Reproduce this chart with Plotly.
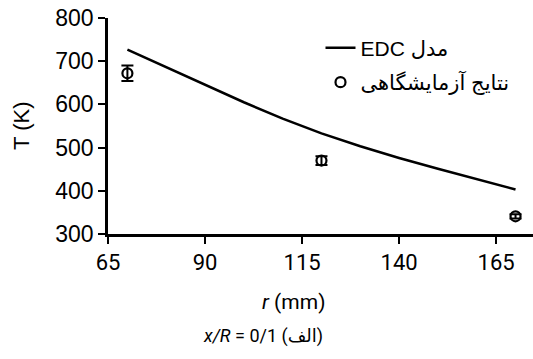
import plotly.graph_objects as go

# EDC model curve
model_r = [70, 80, 90, 100, 110, 120, 130, 140, 150, 160, 170]
model_T = [727, 686, 645, 605, 567, 533, 503, 476, 451, 427, 403]

# Experimental results
exp_r = [70, 120, 170]
exp_T = [672, 470, 341]
exp_err = [18, 10, 5]

x_ticks = [65, 90, 115, 140, 165]
y_ticks = [300, 400, 500, 600, 700, 800]

model_name = "EDC مدل"
exp_name = "نتایج آزمایشگاهی"

fig = go.Figure()
fig.add_trace(go.Scatter(
    x=model_r, y=model_T, mode="lines", name=model_name, legendgroup="a",
    line=dict(color="black", width=2.5),
))
fig.add_trace(go.Scatter(
    x=exp_r, y=exp_T, mode="markers", name=exp_name, legendgroup="b",
    marker=dict(symbol="circle-open", size=10, color="black", line=dict(width=2.2, color="black")),
    error_y=dict(type="data", array=exp_err, visible=True, color="black", thickness=2, width=6),
))

fig.update_layout(
    width=533, height=359,
    margin=dict(l=108, r=0, t=18, b=125),
    paper_bgcolor="white", plot_bgcolor="white",
    font=dict(family="Liberation Sans, Arial, sans-serif", color="black"),
    showlegend=True,
    legend=dict(
        x=0.5, y=0.955, xanchor="left", yanchor="top",
        bgcolor="rgba(0,0,0,0)", borderwidth=0,
        font=dict(size=21, family="Liberation Sans, DejaVu Sans, sans-serif"),
        tracegroupgap=4,
    ),
    xaxis=dict(
        range=[65, 174.5], tickmode="array", tickvals=x_ticks,
        ticks="outside", ticklen=7, tickwidth=2, tickcolor="black",
        showline=True, linecolor="black", linewidth=2.5,
        showgrid=False, zeroline=False, automargin=False,
        ticklabeloverflow="allow",
        tickfont=dict(size=22, family="Roboto, sans-serif"),
    ),
    yaxis=dict(
        range=[300, 800], tickmode="array", tickvals=y_ticks,
        ticks="outside", ticklen=7, tickwidth=2, tickcolor="black",
        showline=True, linecolor="black", linewidth=2.5,
        showgrid=False, zeroline=False, automargin=False,
        ticklabeloverflow="allow",
        tickfont=dict(size=23, family="Liberation Sans, Arial, sans-serif"),
    ),
    annotations=[
        dict(text="T (K)", xref="paper", yref="paper", x=0, y=0.5,
             xanchor="center", yanchor="middle", xshift=-87, textangle=-90,
             showarrow=False, font=dict(size=22, family="Liberation Sans, Arial, sans-serif")),
        dict(text="<i>r</i> (mm)", xref="paper", yref="paper", x=0.436, y=0,
             xanchor="center", yanchor="middle", yshift=-68,
             showarrow=False, font=dict(size=21, family="Roboto, sans-serif")),
        dict(text="<i>x/R</i> = 0/1 (الف)", xref="paper", yref="paper", x=0.365, y=0,
             xanchor="center", yanchor="middle", yshift=-102,
             showarrow=False, font=dict(size=18, family="Roboto, DejaVu Sans, sans-serif")),
    ],
)

fig.write_html("out.html", config={"displayModeBar": False},
               post_script="document.body.style.margin='0';")
